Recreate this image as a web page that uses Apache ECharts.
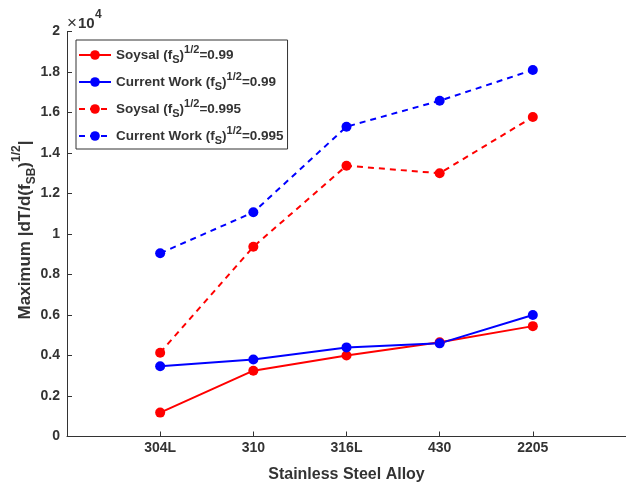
<!DOCTYPE html>
<html>
<head>
<meta charset="utf-8">
<script src="https://cdn.jsdelivr.net/npm/echarts@6/dist/echarts.min.js"></script>
<style>
  html, body { margin: 0; padding: 0; background: #fff; }
  #chart { width: 626px; height: 487px; }
</style>
</head>
<body>
<div id="chart"></div>
<script>
// Alloys, placed at x = 1..5 on the numeric axis
const alloys = ['304L', '310', '316L', '430', '2205'];
const alloyPos = [1, 2, 3, 4, 5];

// Maximum |dT/d(f_SB)^1/2| values
const soysal099 = [1180, 3250, 4000, 4650, 5450];
const current099 = [3470, 3800, 4400, 4600, 6000];
const soysal0995 = [4140, 9370, 13370, 13000, 15780];
const current0995 = [9050, 11070, 15300, 16580, 18100];

// y tick labels are shown in units of 10^4
const yScale = 10000;

const FONT = 'Liberation Sans, Arial, sans-serif';
const INK = '#333333';
const RED = '#ff0000';
const BLUE = '#0000ff';

const legendRich = {
  n: { fontFamily: FONT, fontWeight: 'bold', fontSize: 13.5, color: INK, lineHeight: 22, verticalAlign: 'middle' },
  sub: { fontFamily: FONT, fontWeight: 'bold', fontSize: 11, color: INK, lineHeight: 22, verticalAlign: 'bottom', padding: [0, 0, 1, 0] },
  sup: { fontFamily: FONT, fontWeight: 'bold', fontSize: 11, color: INK, lineHeight: 22, verticalAlign: 'top' }
};

const legendText = {
  's099': '{n|Soysal (f}{sub|S}{n|)}{sup|1/2}{n|=0.99}',
  'c099': '{n|Current Work (f}{sub|S}{n|)}{sup|1/2}{n|=0.99}',
  's0995': '{n|Soysal (f}{sub|S}{n|)}{sup|1/2}{n|=0.995}',
  'c0995': '{n|Current Work (f}{sub|S}{n|)}{sup|1/2}{n|=0.995}'
};

function pts(vals) {
  return vals.map((v, i) => [alloyPos[i], v]);
}

function lineSeries(name, vals, color, dashed) {
  return {
    name: name,
    type: 'line',
    data: pts(vals),
    symbol: 'circle',
    symbolSize: 10,
    showAllSymbol: true,
    lineStyle: { color: color, width: 2, type: dashed ? [6, 5] : 'solid' },
    itemStyle: { color: color, borderWidth: 0 },
    emphasis: { disabled: true },
    animation: false,
    z: 3
  };
}

const chart = echarts.init(document.getElementById('chart'), null, { renderer: 'canvas' });

chart.setOption({
  backgroundColor: '#ffffff',
  animation: false,
  grid: { left: 67, right: 0, top: 31.5, bottom: 50.5, containLabel: false, outerBoundsMode: 'none' },
  xAxis: {
    type: 'value',
    min: 0, max: 6, interval: 1,
    name: 'Stainless Steel Alloy',
    nameLocation: 'middle',
    nameGap: 30,
    nameMoveOverlap: false,
    nameTextStyle: { fontFamily: FONT, fontWeight: 'bold', fontSize: 16, color: INK },
    axisLine: { show: true, lineStyle: { color: INK, width: 1 } },
    axisTick: { show: true, inside: true, length: 5, lineStyle: { color: INK } },
    axisLabel: {
      margin: 5,
      fontFamily: FONT, fontWeight: 'bold', fontSize: 14, color: INK,
      formatter: v => {
        const k = alloyPos.indexOf(v);
        return k >= 0 ? alloys[k] : '';
      }
    },
    splitLine: { show: false }
  },
  yAxis: {
    type: 'value',
    min: 0, max: 20000, interval: 2000,
    name: '{n|Maximum |dT/d(f}{sub|SB}{n|)}{sup|1/2}{n||}',
    nameLocation: 'middle',
    nameRotate: 90,
    nameGap: 28,
    nameMoveOverlap: false,
    nameTextStyle: {
      padding: [0, 0, 0, 8],
      rich: {
        n: { fontFamily: FONT, fontWeight: 'bold', fontSize: 17, color: INK, lineHeight: 28, verticalAlign: 'middle' },
        sub: { fontFamily: FONT, fontWeight: 'bold', fontSize: 12, color: INK, lineHeight: 28, verticalAlign: 'bottom', padding: [0, 0, 1, 0] },
        sup: { fontFamily: FONT, fontWeight: 'bold', fontSize: 12, color: INK, lineHeight: 28, verticalAlign: 'top' }
      }
    },
    axisLine: { show: true, lineStyle: { color: INK, width: 1 } },
    axisTick: { show: true, inside: true, length: 5, lineStyle: { color: INK } },
    axisLabel: {
      margin: 7,
      fontFamily: FONT, fontWeight: 'bold', fontSize: 14, color: INK,
      formatter: v => String(Math.round(v / yScale * 10) / 10)
    },
    splitLine: { show: false }
  },
  legend: {
    orient: 'vertical',
    left: 76, top: 40,
    padding: [4, 4, 2, 2],
    itemGap: 5,
    itemWidth: 32,
    itemHeight: 12,
    borderColor: INK,
    borderWidth: 1,
    borderRadius: 0,
    backgroundColor: '#ffffff',
    selectedMode: false,
    data: ['s099', 'c099', 's0995', 'c0995'],
    formatter: name => legendText[name],
    textStyle: { rich: legendRich }
  },
  graphic: [
    {
      // axis exponent: ×10^4
      type: 'text',
      left: 67, top: 15,
      style: { text: '×', fontFamily: FONT, fontSize: 17, fill: INK }
    },
    {
      type: 'text',
      left: 78, top: 16,
      style: { text: '10', fontFamily: FONT, fontWeight: 'bold', fontSize: 15, fill: INK }
    },
    {
      type: 'text',
      left: 95, top: 9,
      style: { text: '4', fontFamily: FONT, fontWeight: 'bold', fontSize: 12, fill: INK }
    }
  ],
  series: [
    lineSeries('s099', soysal099, RED, false),
    lineSeries('c099', current099, BLUE, false),
    lineSeries('s0995', soysal0995, RED, true),
    lineSeries('c0995', current0995, BLUE, true)
  ]
});
</script>
</body>
</html>
